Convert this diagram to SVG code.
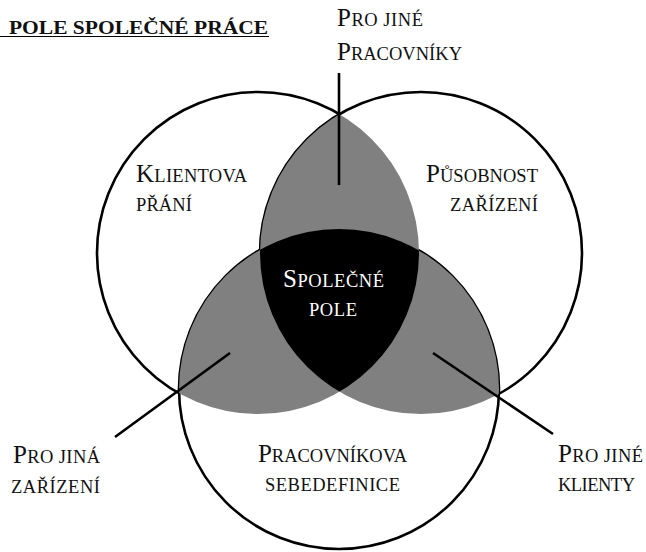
<svg xmlns="http://www.w3.org/2000/svg" width="646" height="552" viewBox="0 0 646 552">
  <style>
    .base { fill: #fff; stroke: #000; stroke-width: 2.6; }
    .pair { fill: #808080; }
    .core { fill: #000; }
    .lead { stroke: #000; stroke-width: 2.6; fill: none; stroke-linecap: butt; }
    .lbl { font-family: "Liberation Serif", "Times New Roman", serif; font-size: 18.5px; fill: #111; }
    .lbl .cap { font-size: 25px; }
    .inv { fill: #fff; }
    .title { font-family: "Liberation Serif", "Times New Roman", serif; font-size: 18px; font-weight: bold; fill: #111; }
  </style>
  <defs>
    <clipPath id="clip-left"><circle cx="258" cy="253" r="161"/></clipPath>
    <clipPath id="clip-right"><circle cx="421" cy="253" r="161"/></clipPath>
  </defs>

  <rect width="646" height="552" fill="#fff"/>

  <!-- heading -->
  <g id="heading">
    <text class="title" x="9" y="34" textLength="259" lengthAdjust="spacingAndGlyphs">POLE SPOLEČNÉ PRÁCE</text>
    <line x1="0" y1="36.5" x2="269" y2="36.5" stroke="#000" stroke-width="1.2"/>
  </g>

  <!-- the three sets -->
  <g id="set-client"><circle class="base" cx="258" cy="253" r="161"/></g>
  <g id="set-facility"><circle class="base" cx="421" cy="253" r="161"/></g>
  <g id="set-worker"><circle class="base" cx="339" cy="389" r="160"/></g>

  <!-- pairwise overlaps -->
  <g id="overlap-client-facility"><circle class="pair" cx="421" cy="253" r="161" clip-path="url(#clip-left)"/></g>
  <g id="overlap-client-worker"><circle class="pair" cx="339" cy="389" r="160" clip-path="url(#clip-left)"/></g>
  <g id="overlap-facility-worker"><circle class="pair" cx="339" cy="389" r="160" clip-path="url(#clip-right)"/></g>

  <!-- shared field (all three) -->
  <g id="common-field">
    <g clip-path="url(#clip-right)">
      <circle class="core" cx="339" cy="389" r="160" clip-path="url(#clip-left)"/>
    </g>
  </g>

  <!-- connectors -->
  <g id="connectors">
    <line class="lead" x1="339" y1="73" x2="339" y2="185"/>
    <line class="lead" x1="115" y1="437" x2="230" y2="353"/>
    <line class="lead" x1="433" y1="353" x2="553" y2="434"/>
  </g>

  <!-- labels -->
  <g id="label-client">
    <text class="lbl" x="136" y="182" textLength="111" lengthAdjust="spacing"><tspan class="cap">K</tspan>LIENTOVA</text>
    <text class="lbl" x="136" y="211" textLength="56" lengthAdjust="spacing">PŘÁNÍ</text>
  </g>
  <g id="label-facility">
    <text class="lbl" x="538" y="182" text-anchor="end" textLength="112" lengthAdjust="spacing"><tspan class="cap">P</tspan>ŮSOBNOST</text>
    <text class="lbl" x="538" y="211" text-anchor="end" textLength="88" lengthAdjust="spacing">ZAŘÍZENÍ</text>
  </g>
  <g id="label-common">
    <text class="lbl inv" x="333.5" y="287" text-anchor="middle" textLength="101" lengthAdjust="spacing"><tspan class="cap">S</tspan>POLEČNÉ</text>
    <text class="lbl inv" x="333" y="316" text-anchor="middle" textLength="48" lengthAdjust="spacing">POLE</text>
  </g>
  <g id="label-worker">
    <text class="lbl" x="332.5" y="462" text-anchor="middle" textLength="149" lengthAdjust="spacing"><tspan class="cap">P</tspan>RACOVNÍKOVA</text>
    <text class="lbl" x="332.5" y="491" text-anchor="middle" textLength="135" lengthAdjust="spacing">SEBEDEFINICE</text>
  </g>
  <g id="label-other-workers">
    <text class="lbl" x="337" y="26" textLength="86" lengthAdjust="spacing"><tspan class="cap">P</tspan>RO JINÉ</text>
    <text class="lbl" x="337" y="60" textLength="125" lengthAdjust="spacing"><tspan class="cap">P</tspan>RACOVNÍKY</text>
  </g>
  <g id="label-other-facilities">
    <text class="lbl" x="100" y="463" text-anchor="end" textLength="87" lengthAdjust="spacing"><tspan class="cap">P</tspan>RO JINÁ</text>
    <text class="lbl" x="100" y="493" text-anchor="end" textLength="89" lengthAdjust="spacing">ZAŘÍZENÍ</text>
  </g>
  <g id="label-other-clients">
    <text class="lbl" x="558" y="462" textLength="85" lengthAdjust="spacing"><tspan class="cap">P</tspan>RO JINÉ</text>
    <text class="lbl" x="558" y="491" textLength="77" lengthAdjust="spacing">KLIENTY</text>
  </g>
</svg>
